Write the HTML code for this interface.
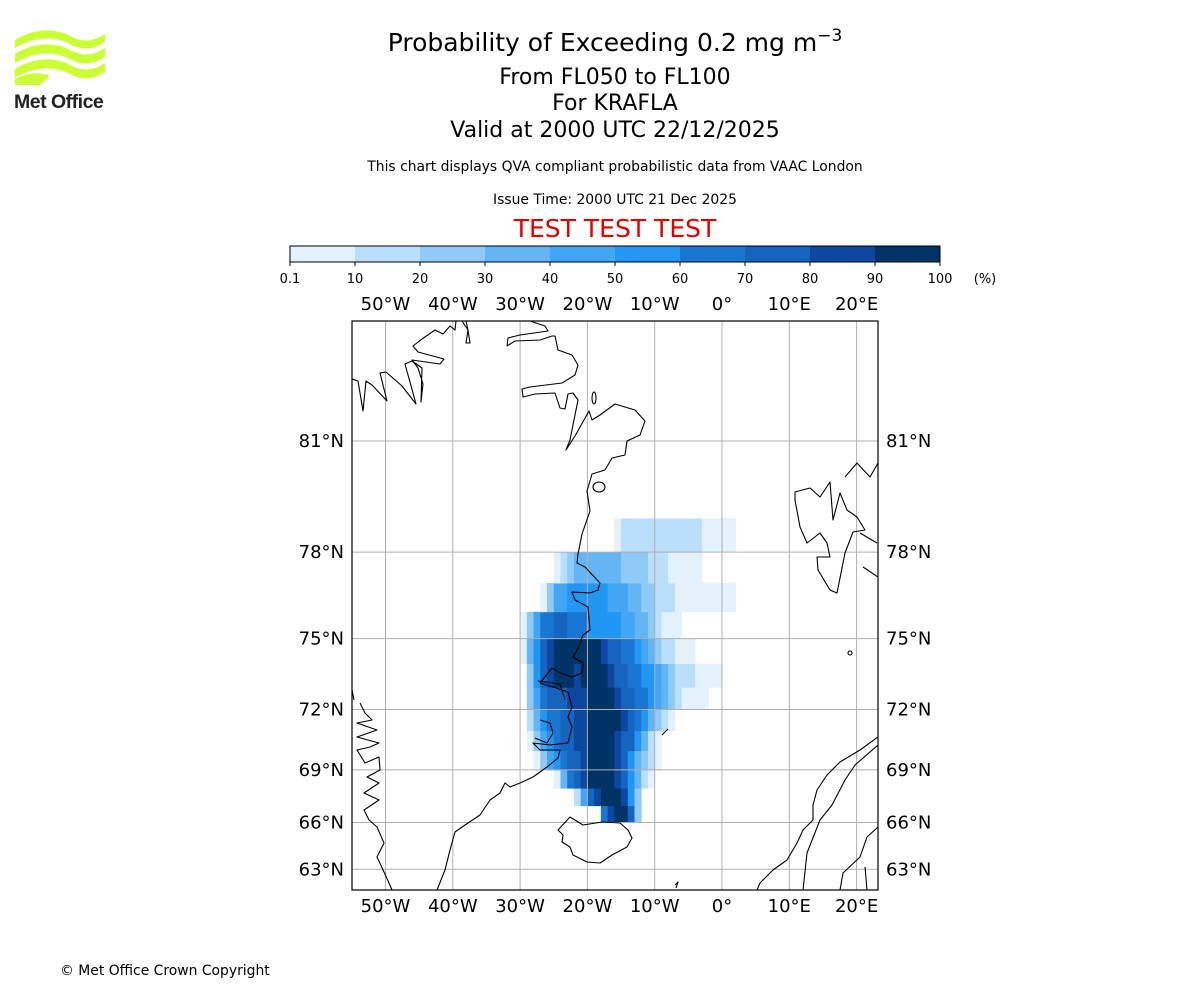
<!DOCTYPE html>
<html><head><meta charset="utf-8"><style>
html,body{margin:0;padding:0;background:#fff;}
svg{display:block;font-family:"DejaVu Sans","Liberation Sans",sans-serif;}
</style></head><body>
<svg id="chart" width="1200" height="1000" viewBox="0 0 1200 1000">
<g>
<path d="M15,40 C35,28 55,28 70,36 C85,44 95,40 105,34 L105,42 C95,48 85,52 70,44 C55,36 35,36 15,48 Z" fill="#ccff33"/>
<path d="M15,54 C35,42 55,42 70,50 C85,58 95,54 105,48 L105,57 C95,63 85,67 70,59 C55,51 35,51 15,63 Z" fill="#ccff33"/>
<path d="M15,69 C35,57 55,57 70,65 C85,73 95,69 105,63 L105,72 C95,78 85,82 70,74 C55,66 35,66 15,78 Z" fill="#ccff33"/>
<path d="M15,79 C30,72 40,72 50,76 L40,85 L15,85 Z" fill="#ccff33"/>
<text x="14" y="108" font-family="Liberation Sans, sans-serif" font-weight="bold" font-size="19.5" fill="#222" letter-spacing="-0.5">Met Office</text>
</g>
<g text-anchor="middle" fill="#000">
<text x="615" y="51" font-size="25">Probability of Exceeding 0.2 mg m<tspan dy="-10" font-size="17">−3</tspan></text>
<text x="615" y="84" font-size="22">From FL050 to FL100</text>
<text x="615" y="110" font-size="22">For KRAFLA</text>
<text x="615" y="137" font-size="22">Valid at 2000 UTC 22/12/2025</text>
<text x="615" y="171" font-size="13.9">This chart displays QVA compliant probabilistic data from VAAC London</text>
<text x="615" y="204" font-size="13.9">Issue Time: 2000 UTC 21 Dec 2025</text>
<text x="615" y="237" font-size="25" fill="#e00000">TEST TEST TEST</text>
</g>
<g id="cbar"></g>
<g id="map">
<clipPath id="clip"><rect x="352" y="321" width="526" height="569"/></clipPath>
<g id="heat" clip-path="url(#clip)"></g>
<g id="grid" clip-path="url(#clip)"></g>
<g clip-path="url(#clip)" fill="none" stroke="#000" stroke-width="1.1" stroke-linejoin="round">
<path d="M352,379 L358,381 L363,411 L366,381 L372,385 L387,401 L380,373 L386,372 L402,386 L416,404 L405,364 L412,361 L422,368 L421,402 L423,384 L418,368 L412,360 L440,364 L444,359 L418,352 L413,346 L422,339 L435,330 L443,334 L450,326 L455,330 L456,321"/>
<path d="M462,321 L468,330 L466,343 L470,343 L468,330 L466,321"/>
<path d="M530,321 L545,326 L548,331 L520,335 L508,338 L507,346 L515,341 L540,340 L552,336 L555,336 L558,350 L572,355 L578,365 L575,375 L562,383 L530,387 L522,389 L523,397 L535,394 L555,393 L560,408 L565,409 L568,394 L573,393 L578,400 L570,440 L566,450 L575,436 L589,411 L592,420 L600,415 L615,404 L635,410 L645,421 L640,435 L627,441 L625,455 L612,458 L605,470 L592,474 L587,491 L590,511 L582,534 L578,554 L577,563 L585,567 L600,583 L598,590 L590,593 L572,592 L575,600 L588,607 L590,630 L583,635 L580,643 L577,650 L573,657 L583,663 L582,673 L572,677 L558,672 L552,668 L540,683 L553,687 L568,692 L572,707 L568,717 L572,727 L568,743 L550,745 L533,743 L540,750 L560,750 L558,758 L547,767 L533,777 L520,783 L510,787 L505,783 L500,793 L490,800 L480,815 L465,825 L455,832 L450,850 L445,870 L437,890"/>
<ellipse cx="594" cy="398" rx="2" ry="6"/>
<ellipse cx="599" cy="487" rx="6" ry="5"/>
<path d="M540,720 L550,723 L553,733 L547,743 L535,738"/>
<path d="M538,681 L560,684 L565,700"/>
<path d="M558,830 L570,817 L583,825 L602,822 L620,823 L628,830 L632,838 L627,847 L612,855 L600,863 L587,862 L573,855 L570,847 L562,842 L563,835 Z"/>
<path d="M795,492 L810,488 L820,497 L830,482 L833,520 L840,493 L847,510 L857,517 L865,530 L853,532 L845,553 L837,593 L830,590 L818,570 L817,557 L830,557 L827,543 L820,533 L807,543 L800,527 L795,500 Z"/>
<path d="M845,477 L857,463 L870,477 L878,463"/>
<path d="M860,533 L877,543 M863,567 L878,577"/>
<ellipse cx="850" cy="653" rx="2" ry="2"/>
<path d="M662,735 L668,729"/>
<path d="M675,885 L678,882 L676,888"/>
<path d="M878,737 L860,750 L840,762 L827,775 L817,790 L813,805 L813,820 L803,830 L797,843 L787,860 L773,870 L760,883 L757,890"/>
<path d="M878,745 L855,765 L845,780 L832,805 L820,820 L807,853 L803,890"/>
<path d="M878,827 L867,837 L860,857 L843,873 L840,890 M865,867 L867,890"/>
<path d="M352,690 L354,700 M360,703 L365,713 L372,720 L357,723 L377,730 L357,737 L379,743 L370,747 L357,750 L365,763 L379,757 L380,770 L367,777 L379,783 L364,793 L379,800 L364,810 L369,820 L377,827 L384,843 L377,857 L384,872 L389,883 L392,890"/>
</g>
<rect x="352" y="321" width="526" height="569" fill="none" stroke="#000" stroke-width="1.2"/>
<g id="labels" font-size="18" fill="#000"></g>
</g>
<text x="60" y="975" font-size="13.9">© Met Office Crown Copyright</text>
</svg>
<script>
const cbarBounds = ["0.1","10","20","30","40","50","60","70","80","90","100"];
const levelColors = ["#e3f2fd","#bbdefb","#90caf9","#64b5f6","#42a5f5","#2196f3","#1976d2","#1565c0","#0d47a1","#003366"];
const lonTicks = [-50,-40,-30,-20,-10,0,10,20];
const lonTickLabels = ["50°W","40°W","30°W","20°W","10°W","0°","10°E","20°E"];
const latTicks = [81,78,75,72,69,66,63];
const latTickLabels = ["81°N","78°N","75°N","72°N","69°N","66°N","63°N"];
const gridLat0 = 66;
const gridLon0 = -30;
// rows: lat 66..78 (each row 1 deg), cols: lon -30..1 (1 deg); 0=none, 1..9,X = probability level
const plumeRows = [
"00000000000079XX8300000000000000",
"000000002589XXX96300000000000000",
"0000014789XXXX986421000000000000",
"0013567889XXXX986432100000000000",
"0135678899XXXX988642100000000000",
"0246778899XXXXX98764321000000000",
"0357888999XXXX988776543211110000",
"03689XXX9XXXX9887766543222111100",
"14689XXXXXXX98877654322111000000",
"13577887776666655443211100000000",
"00013556666665554433222111111111",
"00000123444444433332221111100000",
"00000000000000122222222222211111"
];
const NS = "http://www.w3.org/2000/svg";
function X(lon){ return 722 + lon*6.73; }
function merc(lat){ return Math.log(Math.tan(Math.PI/4 + lat*Math.PI/360)); }
function Y(lat){ return 441 + (merc(81) - merc(lat))*384; }
function mk(tag, attrs, parent){ const e=document.createElementNS(NS,tag); for(const k in attrs) e.setAttribute(k, attrs[k]); parent.appendChild(e); return e; }

const cb = document.getElementById('cbar');
const cbX0 = 290, cbW = 650, cbY = 246, cbH = 16;
const nb = levelColors.length;
levelColors.forEach((c,i)=>{
  const r = mk('rect',{x:cbX0+i*cbW/nb, y:cbY, width:cbW/nb+0.5, height:cbH, fill:c}, cb);
  
  
});
mk('rect',{x:cbX0,y:cbY,width:cbW,height:cbH,fill:'none',stroke:'#000','stroke-width':1}, cb);
cbarBounds.forEach((t,i)=>{
  const x = cbX0 + i*cbW/nb;
  mk('line',{x1:x,x2:x,y1:cbY+cbH,y2:cbY+cbH+4,stroke:'#000'}, cb);
  const tx = mk('text',{x:x,y:283,'font-size':13,'text-anchor':'middle'}, cb);
  tx.textContent = t;
  
  
});
const unit = mk('text',{x:985,y:283,'font-size':13,'text-anchor':'middle'}, cb);
unit.textContent = "(%)";



const heat = document.getElementById('heat');
plumeRows.forEach((row,r)=>{
  const lat = gridLat0 + r;
  const y1 = Y(lat+1), y2 = Y(lat);
  for(let c=0;c<row.length;c++){
    const ch = row[c];
    const v = ch==='X' ? 10 : parseInt(ch,10);
    if(!v) continue;
    const lon = gridLon0 + c;
    const cell = mk('rect',{x:X(lon), y:y1, width:X(lon+1)-X(lon)+0.4, height:y2-y1+0.4, fill:levelColors[v-1]}, heat);
    
    
  }
});

const grid = document.getElementById('grid');
lonTicks.forEach(l=>{ mk('line',{x1:X(l),x2:X(l),y1:321,y2:890,stroke:'#b0b0b0','stroke-width':1}, grid); });
latTicks.forEach(l=>{ mk('line',{x1:352,x2:878,y1:Y(l),y2:Y(l),stroke:'#b0b0b0','stroke-width':1}, grid); });

const lab = document.getElementById('labels');
lonTicks.forEach((l,i)=>{
  [310,912].forEach(yy=>{
    const t = mk('text',{x:X(l),y:yy,'text-anchor':'middle'}, lab);
    t.textContent = lonTickLabels[i];
    
    
  });
});
latTicks.forEach((l,i)=>{
  const t1 = mk('text',{x:344,y:Y(l)+6,'text-anchor':'end'}, lab);
  t1.textContent = latTickLabels[i];
  
  
  const t2 = mk('text',{x:886,y:Y(l)+6,'text-anchor':'start'}, lab);
  t2.textContent = latTickLabels[i];
  
  
});
</script>
</body></html>
